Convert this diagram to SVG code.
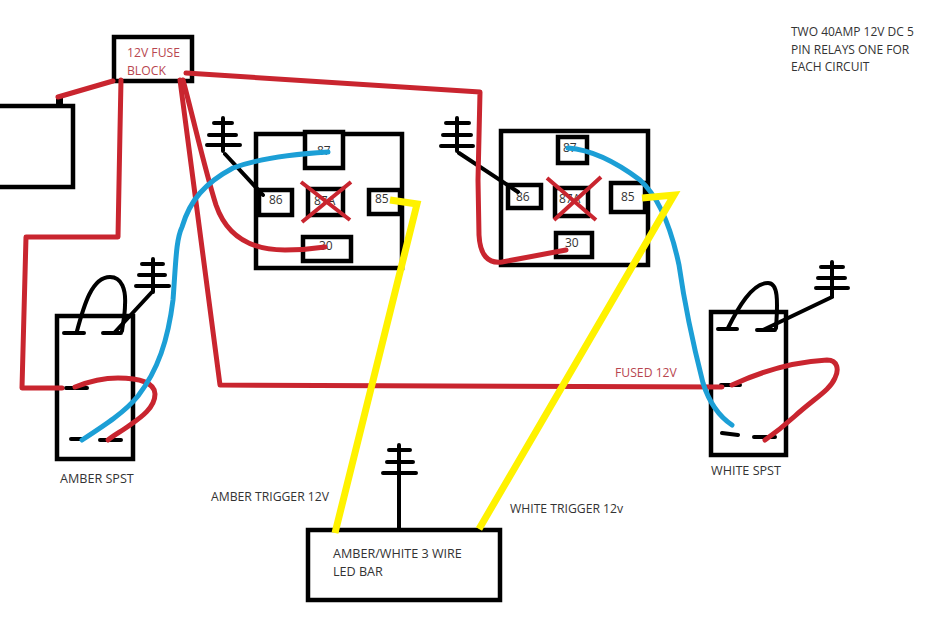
<svg xmlns="http://www.w3.org/2000/svg" width="930" height="620" viewBox="0 0 930 620">
<style>
.box{fill:#fff;stroke:#000;stroke-width:4.5}
.thin{fill:none;stroke:#000;stroke-width:4;stroke-linecap:round;stroke-linejoin:round}
.red{fill:none;stroke:#c9252f;stroke-width:5;stroke-linecap:round;stroke-linejoin:round}
.blue{fill:none;stroke:#1c9fd6;stroke-width:5;stroke-linecap:round;stroke-linejoin:round}
.yel{fill:none;stroke:#fff200;stroke-width:7;stroke-linecap:butt;stroke-linejoin:miter}
text{font-family:"Open Sans","Noto Sans","Liberation Sans",sans-serif;font-size:12.2px;fill:#333}
.rt{fill:#b8464f}
.tn{font-size:12px}
.top{font-size:12px}
.big{font-size:12.6px}
</style>
<rect width="930" height="620" fill="#fff"/>
<g id="battery"><rect class="box" x="-10" y="106" width="83" height="81"/><rect x="56" y="96" width="7" height="10" fill="#000"/></g>
<g id="fuse-block"><rect class="box" x="114" y="37" width="78" height="44"/><text class="rt" x="127" y="57">12V FUSE</text><text class="rt" x="127" y="75">BLOCK</text></g>
<g id="relay-1"><rect class="box" x="256" y="134" width="146" height="134"/>
<rect class="box" x="305" y="132" width="38" height="36"/><text class="tn" x="317" y="155">87</text>
<rect class="box" x="259" y="190" width="33" height="25"/><text class="tn" x="269" y="204">86</text>
<rect class="box" x="308" y="189" width="35" height="26"/><text class="tn" x="314" y="205">87A</text>
<rect class="box" x="369" y="190" width="31" height="24"/><text class="tn" x="375" y="203">85</text>
<rect class="box" x="303" y="237" width="48" height="24"/><text class="tn" x="319" y="250">30</text>
<path d="M301 182L350 220M351 182L302 222" fill="none" stroke="#c9252f" stroke-width="4"/></g>
<g id="relay-2"><rect class="box" x="501" y="131" width="147" height="134"/>
<rect class="box" x="558" y="137" width="29" height="26"/><text class="tn" x="563" y="152">87</text>
<rect class="box" x="508" y="185" width="33" height="23"/><text class="tn" x="516" y="201">86</text>
<rect class="box" x="555" y="188" width="33" height="28"/><text class="tn" x="559" y="203">87A</text>
<rect class="box" x="611" y="183" width="34" height="29"/><text class="tn" x="621" y="201">85</text>
<rect class="box" x="556" y="233" width="36" height="24"/><text class="tn" x="565" y="247">30</text>
<path d="M547 178L596 220M601 177L554 220" fill="none" stroke="#c9252f" stroke-width="4"/></g>
<g id="amber-switch"><rect class="box" x="57" y="316" width="76" height="143"/><path class="thin" d="M64 333H84M103 333H121M66 388H87M71 439H83M100 440H121"/><text class="big" x="60" y="483">AMBER SPST</text></g>
<g id="white-switch"><rect class="box" x="711" y="312" width="75" height="143"/><path class="thin" d="M718 329H737M757 330H775M721 385H740M722 433L738 435M754 437H775"/><text class="big" x="711" y="475">WHITE SPST</text></g>
<g id="led-bar"><rect class="box" x="308" y="530" width="192" height="70"/><text class="big" x="333" y="558">AMBER/WHITE 3 WIRE</text><text class="big" x="333" y="576">LED BAR</text></g>
<g id="ground-1"><path class="thin" d="M223 118V151M214 123H232M209 135H236M207 145H240"/></g>
<g id="ground-2"><path class="thin" d="M457 118V151M446 123H469M443 135H471M441 146H473"/></g>
<g id="ground-3"><path class="thin" d="M153 259V292M142 264H163M139 275H165M136 286H169"/></g>
<g id="ground-4"><path class="thin" d="M832 262V296M821 267H843M818 278H845M816 288H848"/></g>
<g id="ground-5"><path class="thin" d="M399 445V528M389 450H410M387 462H413M383 473H416"/></g>
<g id="connectors">
<path class="thin" d="M225 154L263 195M459 153L518 192M152 292L115 332M832 297L763 330"/>
<path class="thin" d="M77 331C84 305 92 277 110 277C122 277 126 290 125 305C125 315 123 322 122 331M728 328C738 308 752 283 768 283C778 283 778 300 776 328"/>
<path class="red" d="M58 97L113 81M121 80L120 130L118 237L26 237L22 388L62 388"/>
<path class="red" d="M186 73L480 92L478 180L479 235C480 255 488 264 502 262L566 250"/>
<path class="red" d="M180 80L220 385L722 387"/>
<path class="red" d="M183 80C195 125 205 170 216 205C228 240 255 250 285 250C300 250 312 249 325 247"/>
<path class="red" d="M75 387C90 381 105 378 118 378C140 378 155 383 155 394C155 408 140 418 130 425C122 431 114 435 108 440"/>
<path class="red" d="M732 385C760 372 790 362 827 360C838 360 839 370 835 378C830 390 815 398 795 416C785 425 775 433 765 440"/>
<path class="blue" d="M82 440C105 425 125 412 138 396C158 370 168 340 173 300C176 260 176 240 182 227C190 200 205 183 233 168C260 158 295 154 328 152"/>
<path class="blue" d="M568 148C595 150 620 165 640 180C660 198 672 232 679 265C684 300 692 340 703 383C710 405 720 417 732 425"/>
<path class="yel" d="M390 200L417 204L335 533"/>
<path class="yel" d="M642 198L674 195L479 529"/>
</g>
<text class="top" x="791" y="36">TWO 40AMP 12V DC 5</text>
<text class="top" x="791" y="54">PIN RELAYS ONE FOR</text>
<text class="top" x="791" y="71">EACH CIRCUIT</text>
<text x="211" y="501">AMBER TRIGGER 12V</text>
<text x="510" y="513">WHITE TRIGGER 12v</text>
<text class="rt" x="615" y="377">FUSED 12V</text>
</svg>
